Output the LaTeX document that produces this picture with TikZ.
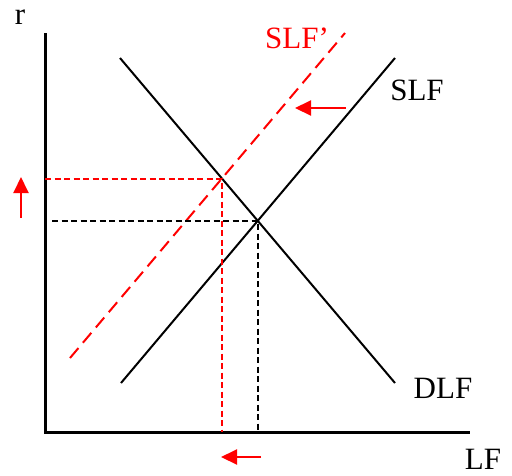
\documentclass[tikz,border=0pt]{standalone}
\usepackage{fontspec}
\setmainfont{Liberation Serif}
\usetikzlibrary{arrows.meta}
\begin{document}
\begin{tikzpicture}[x=1pt,y=-1pt,
  axis/.style={line width=3pt},
  curve/.style={line width=2pt},
  shiftcurve/.style={line width=2pt,red,dash pattern=on 13pt off 7pt},
  guide/.style={line width=1.8pt,dash pattern=on 6pt off 3.5pt},
  move/.style={line width=2pt,red,-{Triangle[length=16pt,width=15pt]}},
  lbl/.style={font=\fontsize{31}{36}\selectfont,inner sep=0pt}]
\useasboundingbox (0,0) rectangle (512,475);
% axes
\coordinate (o) at (45,432);
\coordinate (ytop) at (45,33);
\coordinate (xend) at (470,432);
\draw[axis] (ytop) -- (o) -- (xend);
\node[lbl] (r) at (20,17) {r};
\node[lbl] (lf) at (483,459) {LF};
% curves
\coordinate (s1) at (121,383);
\coordinate (s2) at (395,58);
\coordinate (d1) at (120,58);
\coordinate (d2) at (395,383);
\coordinate (p1) at (70,358);
\coordinate (p2) at (345,33);
\draw[curve] (s1) -- (s2);
\draw[curve] (d1) -- (d2);
\draw[shiftcurve] (p1) -- (p2);
\node[lbl] (slf) at (417,90) {SLF};
\node[lbl,red] (slfp) at (297,38) {SLF’};
\node[lbl] (dlf) at (443,388) {DLF};
% equilibria
\coordinate (e1) at (258,221);
\coordinate (e2) at (222,179);
\coordinate (e1y) at (52,221);
\coordinate (e1x) at (258,432);
\coordinate (e2y) at (45,179);
\coordinate (e2x) at (222,432);
\draw[guide] (e1y) -- (e1) -- (e1x);
\draw[guide,red] (e2y) -- (e2) -- (e2x);
% arrows
\coordinate (a1s) at (346,108);
\coordinate (a1e) at (295,108);
\coordinate (a2s) at (21,218);
\coordinate (a2e) at (21,177);
\coordinate (a3s) at (261,457);
\coordinate (a3e) at (221,457);
\draw[move] (a1s) -- (a1e);
\draw[move] (a2s) -- (a2e);
\draw[move] (a3s) -- (a3e);
\end{tikzpicture}
\end{document}
